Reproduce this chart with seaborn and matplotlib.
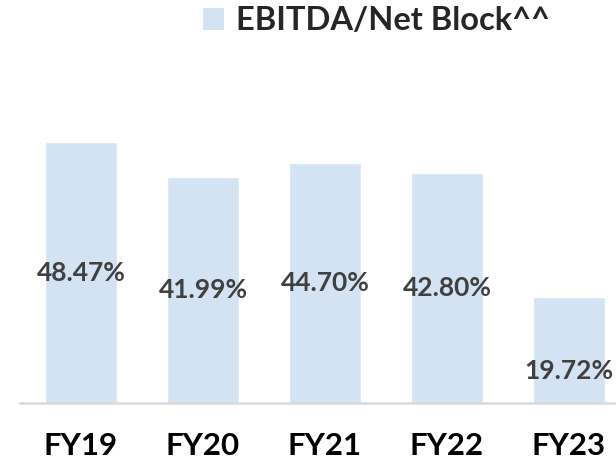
import matplotlib
matplotlib.use("Agg")
import matplotlib.pyplot as plt
from matplotlib.patches import Patch
import pandas as pd
import seaborn as sns

years = ["FY19", "FY20", "FY21", "FY22", "FY23"]
ebitda_net_block = [48.47, 41.99, 44.70, 42.80, 19.72]
value_labels = ["48.47%", "41.99%", "44.70%", "42.80%", "19.72%"]
series_name = "EBITDA/Net Block^^"

bar_color = "#d3e3f3"

sns.set_style("white")
plt.rcParams["font.family"] = ["Lato", "DejaVu Sans"]

df = pd.DataFrame({"Year": years, "Value": ebitda_net_block})

fig = plt.figure(figsize=(6.16, 4.66), dpi=100)
ax = fig.add_axes([20 / 616, 63 / 466, 610 / 616, 268.75 / 466])

sns.barplot(data=df, x="Year", y="Value", color=bar_color, width=0.59,
            saturation=1, ax=ax)
ax.set_ylim(0, 50)

# data labels in the middle of each bar
labels = ax.bar_label(ax.containers[0], labels=value_labels, label_type="center",
                      fontsize=19, fontweight="bold", color="#404040")
# last label sits a bit lower in the original
labels[-1].xyann = (0, -15)

ax.set_xlabel("")
ax.set_ylabel("")
ax.set_yticks([])
ax.tick_params(axis="x", length=0, pad=21)
for t in ax.get_xticklabels():
    t.set_fontsize(22.5)
    t.set_fontweight("bold")
    t.set_color("black")

for s in ["left", "top", "right"]:
    ax.spines[s].set_visible(False)
ax.spines["bottom"].set_color("#d9d9d9")
ax.spines["bottom"].set_linewidth(1.8)

handle = Patch(facecolor=bar_color, edgecolor="none")
fig.legend(handles=[handle], labels=[series_name], loc="center left",
           bbox_to_anchor=(203 / 616, 1 - 21 / 466), frameon=False,
           prop={"size": 23.5, "weight": "bold"}, handlelength=0.65,
           handleheight=0.65, handletextpad=0.35, borderaxespad=0,
           borderpad=0)

fig.savefig("out.png", dpi=100)
